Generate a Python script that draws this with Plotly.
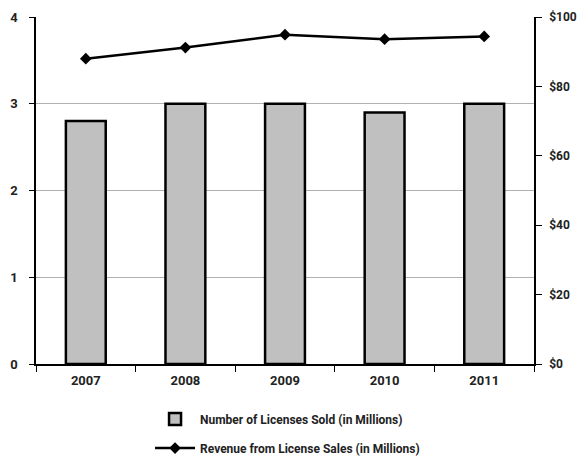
import plotly.graph_objects as go

years = ["2007", "2008", "2009", "2010", "2011"]
licenses_sold = [2.8, 3.0, 3.0, 2.9, 3.0]
revenue = [88.0, 91.2, 94.9, 93.6, 94.4]

font_family = "Roboto, sans-serif"

fig = go.Figure()
fig.add_trace(go.Bar(x=years, y=licenses_sold, name="Number of Licenses Sold (in Millions)",
                     marker=dict(color="#c0c0c0", line=dict(color="black", width=2.5)),
                     width=0.4, legendgroup="a"))
fig.add_trace(go.Scatter(x=years, y=revenue, yaxis="y2", mode="lines+markers",
                         name="Revenue from License Sales (in Millions)",
                         line=dict(color="black", width=2.5),
                         marker=dict(symbol="diamond", size=9, color="black"),
                         legendgroup="b"))

# the page body has an 8px margin, so the figure starts at (8, 8)
fig.update_layout(
    width=578, height=464,
    margin=dict(l=28, r=52, t=9, b=104),
    plot_bgcolor="white", paper_bgcolor="white",
    font=dict(family=font_family, size=13, color="#222", weight="bold"),
    showlegend=True,
    legend=dict(orientation="v", x=0.229, xanchor="left", y=-0.117, yanchor="top",
                font=dict(size=12), tracegroupgap=10, itemwidth=40),
    xaxis=dict(showline=True, linecolor="black", linewidth=1.5,
               ticks="outside", ticklen=6, tickcolor="black", tickson="boundaries",
               showgrid=False, zeroline=False, automargin=False, ticklabelstandoff=4),
    yaxis=dict(range=[0, 4], dtick=1, showgrid=True, gridcolor="#b0b0b0", gridwidth=1,
               showline=True, linecolor="black", linewidth=1.5,
               ticks="outside", ticklen=5, tickcolor="black", zeroline=False,
               automargin=False, ticklabelstandoff=9),
    yaxis2=dict(range=[0, 100], dtick=20, tickprefix="$", overlaying="y", side="right",
                showgrid=False, showline=True, linecolor="black", linewidth=1.5,
                ticks="outside", ticklen=6, tickcolor="black", zeroline=False,
                automargin=False, ticklabelstandoff=5, tickfont=dict(size=12)),
)

fig.write_html("out.html")
